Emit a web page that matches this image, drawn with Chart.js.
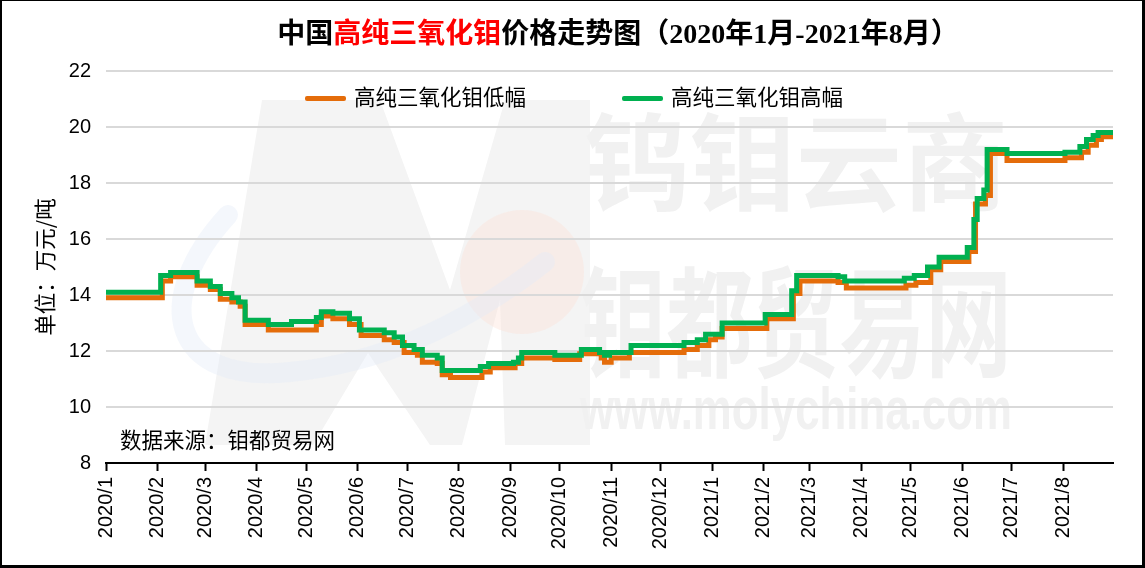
<!DOCTYPE html>
<html>
<head>
<meta charset="utf-8">
<title>中国高纯三氧化钼价格走势图</title>
<script src="https://cdn.jsdelivr.net/npm/chart.js@4.4.0/dist/chart.umd.min.js"></script>
<style>
    html, body { margin: 0; padding: 0; background: #fff; }
    #wrap { position: relative; width: 1145px; height: 568px; overflow: hidden; background: #fff; }
    #chart { position: absolute; left: 0; top: 0; }
    #frame {
        position: absolute; left: 0; top: 0; right: 0; bottom: 0;
        border-style: solid; border-color: #000; border-width: 1px 3px 3px 2px;
        pointer-events: none;
    }
    #title {
        position: absolute; left: 0; width: 1236px; top: 17px;
        text-align: center; white-space: nowrap;
        font-family: "Liberation Serif", "Noto Sans CJK SC", serif;
        font-size: 28px; font-weight: bold; line-height: 34px; color: #000;
    }
    #title .hl { color: #ff0000; }
    .legend-item {
        position: absolute; top: 83px; height: 26px;
        font-family: "Noto Sans CJK SC", sans-serif; font-size: 21.5px; line-height: 26px;
        color: #000; white-space: nowrap;
    }
    .legend-item i {
        display: inline-block; width: 41px; height: 5px; border-radius: 2px;
        vertical-align: middle; margin-right: 8px; position: relative; top: -1px;
    }
    #source {
        position: absolute; left: 120px; top: 426px;
        font-family: "Noto Sans CJK SC", sans-serif; font-size: 21.5px; line-height: 26px;
        color: #000; white-space: nowrap;
    }
</style>
</head>
<body>
<div id="wrap">
    <canvas id="chart" width="1145" height="568"></canvas>
    <div id="title">中国<span class="hl">高纯三氧化钼</span>价格走势图（2020年1月-2021年8月）</div>
    <div class="legend-item" id="legLow" style="left:305px"><i></i><span></span></div>
    <div class="legend-item" id="legHigh" style="left:622px"><i></i><span></span></div>
    <div id="source">数据来源：钼都贸易网</div>
    <div id="frame"></div>
</div>
<script>
// x axis month labels (ticks sit on the first day of each month)
const monthLabels = [
    '2020/1', '2020/2', '2020/3', '2020/4', '2020/5', '2020/6', '2020/7', '2020/8', '2020/9', '2020/10',
    '2020/11', '2020/12', '2021/1', '2021/2', '2021/3', '2021/4', '2021/5', '2021/6', '2021/7', '2021/8'
];
const seriesNames = ['高纯三氧化钼低幅', '高纯三氧化钼高幅'];
const yTicks = [8, 10, 12, 14, 16, 18, 20, 22];
const endDate = '2021-08-31';

// 低幅: dates where the price changes, and the new price (万元/吨)
const lowDates = [
    '2020-01-01', '2020-02-04', '2020-02-09', '2020-02-25', '2020-03-04', '2020-03-10', '2020-03-17',
    '2020-03-22', '2020-03-25', '2020-04-08', '2020-05-07', '2020-05-10', '2020-05-17', '2020-05-27',
    '2020-06-03', '2020-06-17', '2020-06-23', '2020-06-29', '2020-07-07', '2020-07-10', '2020-07-19',
    '2020-07-22', '2020-07-27', '2020-08-15', '2020-08-20', '2020-09-04', '2020-09-08', '2020-09-28',
    '2020-10-13', '2020-10-26', '2020-10-28', '2020-11-01', '2020-11-12', '2020-12-15', '2020-12-23',
    '2020-12-30', '2021-01-03', '2021-01-07', '2021-02-03', '2021-02-19', '2021-02-23', '2021-03-18',
    '2021-03-23', '2021-04-28', '2021-05-04', '2021-05-13', '2021-05-19', '2021-06-05', '2021-06-09',
    '2021-06-15', '2021-06-18', '2021-06-28', '2021-08-02', '2021-08-12', '2021-08-16', '2021-08-21',
    '2021-08-24', '2021-08-31'
];
const lowValues = [
    13.9, 14.5, 14.65, 14.35, 14.2, 13.85, 13.75,
    13.6, 12.95, 12.75, 12.95, 13.25, 13.15, 12.95,
    12.55, 12.4, 12.3, 11.95, 11.85, 11.6, 11.55,
    11.15, 11.05, 11.25, 11.4, 11.55, 11.75, 11.7,
    11.9, 11.75, 11.6, 11.75, 11.95, 12.05, 12.2,
    12.4, 12.5, 12.8, 13.15, 14.05, 14.5, 14.45,
    14.25, 14.35, 14.45, 14.9, 15.2, 15.55, 17.25,
    17.55, 19.05, 18.8, 18.9, 19.1, 19.35, 19.55,
    19.65, 19.65
];

// 高幅
const highDates = [
    '2020-01-01', '2020-02-03', '2020-02-09', '2020-02-25', '2020-03-04', '2020-03-10', '2020-03-17',
    '2020-03-21', '2020-03-25', '2020-04-08', '2020-04-22', '2020-05-07', '2020-05-10', '2020-05-17',
    '2020-05-27', '2020-06-02', '2020-06-17', '2020-06-23', '2020-06-28', '2020-07-05', '2020-07-10',
    '2020-07-19', '2020-07-22', '2020-08-14', '2020-08-19', '2020-09-03', '2020-09-06', '2020-09-08',
    '2020-09-28', '2020-10-14', '2020-10-25', '2020-10-28', '2020-10-31', '2020-11-13', '2020-12-15',
    '2020-12-23', '2020-12-28', '2021-01-07', '2021-02-02', '2021-02-18', '2021-02-21', '2021-03-18',
    '2021-03-22', '2021-04-27', '2021-05-03', '2021-05-11', '2021-05-18', '2021-06-04', '2021-06-08',
    '2021-06-10', '2021-06-14', '2021-06-16', '2021-06-28', '2021-08-02', '2021-08-11', '2021-08-15',
    '2021-08-19', '2021-08-22', '2021-08-31'
];
const highValues = [
    14.1, 14.7, 14.8, 14.5, 14.3, 14.05, 13.9,
    13.75, 13.1, 12.95, 13.05, 13.2, 13.4, 13.35,
    13.15, 12.75, 12.65, 12.5, 12.2, 12.05, 11.85,
    11.75, 11.3, 11.45, 11.55, 11.6, 11.75, 11.95,
    11.85, 12.05, 11.95, 11.85, 11.95, 12.2, 12.3,
    12.4, 12.6, 13.0, 13.3, 14.15, 14.7, 14.65,
    14.5, 14.6, 14.7, 15.0, 15.35, 15.7, 16.7,
    17.45, 17.75, 19.2, 19.05, 19.1, 19.3, 19.55,
    19.7, 19.8, 19.8
];

const lowColor = '#e46c0a';
const highColor = '#00b050';

const DAY = 86400000;
const origin = Date.UTC(2020, 0, 1);
const toDay = s => (Date.parse(s + 'T00:00:00Z') - origin) / DAY;
const monthDays = monthLabels.map(l => {
    const [y, m] = l.split('/').map(Number);
    return (Date.UTC(y, m - 1, 1) - origin) / DAY;
});
const toPoints = (dates, values) => dates.map((d, i) => ({ x: toDay(d), y: values[i] }));

// legend (html)
document.querySelector('#legLow i').style.background = lowColor;
document.querySelector('#legLow span').textContent = seriesNames[0];
document.querySelector('#legHigh i').style.background = highColor;
document.querySelector('#legHigh span').textContent = seriesNames[1];

// faint logo / site watermark behind the plot
const watermark = {
    id: 'watermark',
    beforeDraw(chart) {
        const ctx = chart.ctx;
        ctx.save();
        // big "M"
        ctx.fillStyle = '#f4f4f4';
        ctx.beginPath();
        ctx.moveTo(205, 445); ctx.lineTo(262, 100); ctx.lineTo(380, 100);
        ctx.lineTo(450, 290); ctx.lineTo(505, 100); ctx.lineTo(590, 100);
        ctx.lineTo(590, 445); ctx.lineTo(505, 445); ctx.lineTo(500, 300);
        ctx.lineTo(462, 445); ctx.lineTo(430, 445); ctx.lineTo(368, 353);
        ctx.lineTo(313, 445); ctx.closePath();
        ctx.fill();
        // pale circle
        ctx.fillStyle = 'rgba(252, 225, 215, 0.4)';
        ctx.beginPath();
        ctx.arc(522, 272, 62, 0, Math.PI * 2);
        ctx.fill();
        // pale swoosh
        ctx.strokeStyle = 'rgba(228, 236, 248, 0.4)';
        ctx.lineWidth = 20;
        ctx.lineCap = 'round';
        ctx.beginPath();
        ctx.moveTo(228, 215);
        ctx.bezierCurveTo(150, 300, 170, 385, 290, 372);
        ctx.quadraticCurveTo(420, 360, 545, 262);
        ctx.stroke();

        ctx.fillStyle = '#f1f1f1';
        ctx.textBaseline = 'middle';
        ctx.textAlign = 'left';
        ctx.font = 'bold 106px "Noto Sans CJK SC"';
        ctx.fillText('钨钼云商', 584, 162);
        ctx.save();
        ctx.translate(580, 322);
        ctx.scale(0.72, 1);
        ctx.font = 'bold 120px "Noto Sans CJK SC"';
        ctx.fillText('钼都贸易网', 0, 0);
        ctx.restore();
        ctx.save();
        ctx.font = 'bold 60px "Liberation Sans"';
        const w = ctx.measureText('www.molychina.com').width;
        ctx.translate(580, 412);
        ctx.scale(432 / w, 1);
        ctx.fillText('www.molychina.com', 0, 0);
        ctx.restore();
        ctx.restore();
    }
};

new Chart(document.getElementById('chart'), {
    type: 'line',
    data: {
        datasets: [
            {
                label: seriesNames[1],
                data: toPoints(highDates, highValues),
                borderColor: highColor,
                backgroundColor: highColor,
                borderWidth: 5,
                pointRadius: 0,
                stepped: true,
                fill: false
            },
            {
                label: seriesNames[0],
                data: toPoints(lowDates, lowValues),
                borderColor: lowColor,
                backgroundColor: lowColor,
                borderWidth: 5,
                pointRadius: 0,
                stepped: true,
                fill: false
            }
        ]
    },
    options: {
        responsive: false,
        animation: false,
        devicePixelRatio: 1,
        layout: { padding: { left: 32, right: 32, top: 71, bottom: 0 } },
        scales: {
            x: {
                type: 'linear',
                min: 0,
                max: toDay(endDate),
                afterBuildTicks: s => { s.ticks = monthDays.map(v => ({ value: v })); },
                afterFit: s => { s.height = 105; },
                ticks: {
                    autoSkip: false,
                    minRotation: 90,
                    maxRotation: 90,
                    padding: 6,
                    color: '#000',
                    font: { family: 'Liberation Sans', size: 20 },
                    callback: (v, i) => monthLabels[i]
                },
                grid: {
                    drawOnChartArea: false,
                    drawTicks: true,
                    tickLength: 8,
                    tickWidth: 2,
                    tickColor: '#000'
                },
                border: { display: true, color: '#000', width: 2 }
            },
            y: {
                min: yTicks[0],
                max: yTicks[yTicks.length - 1],
                afterBuildTicks: s => { s.ticks = yTicks.map(v => ({ value: v })); },
                afterFit: s => { s.width = 74; },
                ticks: {
                    padding: 15,
                    color: '#000',
                    font: { family: 'Liberation Sans', size: 20 }
                },
                grid: { color: '#d9d9d9', lineWidth: 2, drawTicks: false },
                border: { display: false },
                title: {
                    display: true,
                    text: '单位：万元/吨',
                    color: '#000',
                    padding: 0,
                    font: { family: 'Noto Sans CJK SC', size: 21.5 }
                }
            }
        },
        plugins: {
            legend: { display: false },
            tooltip: { enabled: false }
        }
    },
    plugins: [watermark]
});
</script>
</body>
</html>
